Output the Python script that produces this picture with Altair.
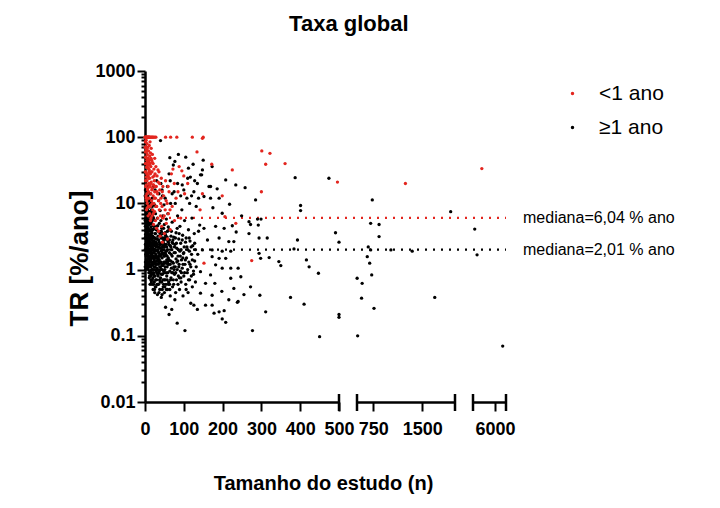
import altair as alt
import pandas as pd

# ---------------- data ----------------
title_text = "Taxa global"
y_title = "TR [%/ano]"
x_title = "Tamanho do estudo (n)"
groups = ["<1 ano", "≥1 ano"]
colors = ["#e3261f", "#000000"]
medians = [6.04, 2.01]
median_labels = ["mediana=6,04 % ano", "mediana=2,01 % ano"]

seg_domains = [[0, 500], [500, 2000], [2000, 8000]]
seg_ticks = [[0, 100, 200, 300, 400, 500], [750, 1500], [6000]]
seg_caps = [[500], [500, 2000], [2000, 8000]]
y_major = [0.01, 0.1, 1, 10, 100, 1000]

# (n, TR) for studies with follow-up >= 1 year
black_points = [
    (1, 1.3), (1, 2.4), (1, 4.5), (1, 8.2), (2, 1.1), (2, 3.1), (2, 6.0), (2, 12), (2, 20),
    (3, 1.6), (3, 2.0), (3, 3.8), (3, 5.2), (3, 9.5), (4, 1.25), (4, 2.7), (4, 4.0), (4, 7.0), (4, 15),
    (5, 1.4), (5, 1.9), (5, 3.3), (5, 5.8), (5, 10.5), (6, 1.05), (6, 2.2), (6, 2.9), (6, 4.6), (6, 6.5),
    (7, 1.7), (7, 3.5), (7, 8.8), (7, 13), (8, 1.2), (8, 2.5), (8, 4.3), (8, 6.2), (8, 18),
    (9, 1.5), (9, 2.1), (9, 3.0), (9, 5.4), (10, 0.9), (10, 1.8), (10, 3.9), (10, 7.6), (10, 11),
    (11, 1.1), (11, 2.3), (11, 4.8), (11, 9.2), (12, 0.8), (12, 1.6), (12, 2.9), (12, 5.5),
    (13, 1.3), (13, 2.0), (13, 3.4), (13, 14), (14, 0.95), (14, 1.9), (14, 2.6), (14, 6.8),
    (15, 0.7), (15, 1.4), (15, 3.1), (15, 4.4), (15, 10), (16, 1.15), (16, 2.2), (16, 5.0),
    (17, 0.85), (17, 1.7), (17, 2.8), (17, 8.0), (18, 0.6), (18, 1.3), (18, 3.6), (18, 4.9),
    (19, 1.0), (19, 1.8), (19, 2.4), (19, 12), (20, 0.75), (20, 1.5), (20, 3.2), (20, 6.3),
    (21, 0.5), (21, 1.2), (21, 2.1), (22, 0.9), (22, 1.6), (22, 4.1), (23, 1.1), (23, 2.7), (23, 7.2),
    (24, 0.65), (24, 1.4), (24, 3.0), (25, 0.45), (25, 1.0), (25, 1.9), (25, 5.6), (26, 0.8), (26, 2.4),
    (26, 16), (27, 1.25), (27, 3.5), (28, 0.55), (28, 1.7), (28, 9.0), (29, 0.95), (29, 2.2),
    (30, 0.7), (30, 1.35), (30, 4.5), (31, 1.05), (31, 2.9), (32, 0.42), (32, 1.55), (32, 6.0),
    (33, 0.85), (33, 2.0), (34, 1.2), (34, 3.8), (35, 0.6), (35, 1.8), (35, 11),
    (36, 0.9), (36, 2.6), (37, 1.4), (37, 5.0), (38, 0.5), (38, 1.1), (39, 2.1), (39, 7.8),
    (40, 0.75), (40, 1.6), (40, 3.3), (40, 89), (41, 1.0), (41, 20), (42, 0.38), (42, 1.3), (42, 2.5),
    (43, 0.65), (43, 4.2), (44, 1.5), (44, 2.0), (45, 0.85), (45, 3.0), (45, 13), (46, 1.15), (46, 6.5),
    (47, 0.55), (47, 1.75), (48, 0.95), (48, 2.8), (49, 1.3), (49, 9.5), (50, 0.45), (50, 2.2), (50, 4.8),
    (51, 1.0), (51, 1.6), (52, 0.7), (52, 3.6), (53, 1.25), (53, 0.27), (54, 0.6), (54, 2.4),
    (55, 1.9), (55, 5.8), (56, 0.8), (56, 1.4), (57, 1.1), (57, 3.1), (58, 0.5), (58, 2.0),
    (59, 0.9), (59, 7.0), (60, 1.5), (60, 2.6),
    (61, 0.65), (61, 1.2), (62, 0.21), (62, 4.0), (62, 28), (63, 1.8), (64, 0.95), (64, 49), (65, 0.4), (65, 2.3),
    (66, 1.35), (66, 10), (67, 0.75), (67, 3.2), (68, 1.05), (69, 0.25), (69, 2.0), (70, 1.6), (70, 5.2),
    (71, 0.55), (72, 0.9), (72, 2.8), (73, 38), (73, 1.25), (74, 0.6), (75, 1.8), (75, 15), (76, 0.85),
    (77, 43), (77, 2.4), (78, 1.1), (79, 0.45), (80, 3.6), (80, 1.45), (81, 0.7), (82, 2.1),
    (83, 0.155), (83, 1.0), (84, 6.5), (85, 1.6), (86, 55), (86, 0.8), (87, 2.9), (88, 1.2),
    (89, 0.5), (90, 4.5), (90, 1.9), (91, 0.95), (92, 2.5), (93, 0.65), (94, 1.4), (95, 8.0),
    (96, 19), (96, 1.05), (97, 3.3), (98, 0.4), (99, 1.75), (100, 0.8), (101, 2.2), (102, 5.5),
    (103, 0.12), (103, 1.2), (105, 0.6), (105, 50), (106, 3.0), (107, 1.5), (108, 12), (109, 0.9),
    (110, 2.0), (111, 0.45), (112, 4.0), (112, 34), (113, 1.3), (115, 0.7), (116, 2.7), (117, 25),
    (118, 0.31), (118, 1.1), (120, 1.7), (121, 6.0), (122, 0.55), (123, 2.3), (124, 39), (125, 0.85),
    (126, 0.29), (126, 15), (127, 3.5), (128, 1.35), (130, 0.65), (130, 2.0),
    (0.5, 2.0), (0.5, 5.5), (0.5, 13), (1.5, 1.0), (1.5, 3.4), (2.5, 2.2), (2.5, 7.5), (3.5, 1.4),
    (3.5, 4.8), (4.5, 2.4), (4.5, 11), (5.5, 1.6), (5.5, 3.7), (6.5, 2.6), (6.5, 8.0), (7.5, 1.3),
    (7.5, 5.0), (8.5, 2.0), (8.5, 3.3), (9.5, 1.15), (9.5, 9.8), (10.5, 2.7), (11.5, 1.45), (11.5, 6.2),
    (12.5, 3.8), (13.5, 0.9), (13.5, 2.5), (14.5, 1.6), (15.5, 2.0), (15.5, 7.0), (16.5, 0.65),
    (16.5, 3.3), (17.5, 1.2), (18.5, 2.2), (18.5, 9.0), (19.5, 1.5), (20.5, 2.6), (21.5, 0.85),
    (21.5, 4.6), (22.5, 1.3), (23.5, 1.8), (24.5, 2.3), (24.5, 0.5), (26.5, 1.5), (27.5, 0.7),
    (28.5, 2.9), (29.5, 1.2), (31.5, 1.9), (32.5, 0.6), (33.5, 3.2), (34.5, 1.5), (36.5, 1.25),
    (37.5, 0.7), (38.5, 2.4), (39.5, 1.0), (41.5, 3.0), (43.5, 1.2), (44.5, 0.5), (46.5, 2.3),
    (48.5, 1.6), (49.5, 0.7), (51.5, 3.0), (53.5, 1.7), (56.5, 2.8), (58.5, 1.3), (61.5, 2.4),
    (63.5, 0.6), (67.5, 1.7), (71.5, 2.5), (74.5, 1.1), (78.5, 3.0), (84.5, 1.35), (92.5, 0.75),
    (97.5, 1.5), (104.5, 2.6), (114.5, 1.9), (119.5, 0.8),
    (0.5, 1.1), (0.5, 3.0), (0.5, 8.5), (1, 16), (1.5, 5.8), (2, 1.7), (2.5, 4.0), (3, 1.2), (3, 7.0),
    (3.5, 2.9), (4, 1.8), (4, 10), (4.5, 1.1), (5, 2.6), (5, 4.4), (5.5, 7.8), (6, 1.4), (6, 3.6),
    (6, 12), (6.5, 1.9), (7, 1.1), (7, 2.4), (7, 5.6), (7.5, 3.0), (8, 1.6), (8, 9.5), (8.5, 1.0),
    (9, 4.0), (9, 7.0), (9.5, 2.5), (10, 1.3), (10, 5.2), (10.5, 1.6), (11, 3.3), (11, 0.75),
    (11.5, 2.0), (12, 1.2), (12, 4.0), (12, 8.8), (12.5, 1.8), (13, 0.6), (13, 5.0), (13.5, 1.4),
    (14, 3.0), (14, 11), (14.5, 0.8), (15, 2.3), (15, 1.8), (15.5, 1.1), (16, 3.8), (16, 1.5),
    (16.5, 7.5), (17, 1.0), (17, 4.0), (17.5, 2.4), (18, 2.0), (18, 0.9), (18.5, 5.5), (19, 3.0),
    (19, 0.7), (19.5, 1.2), (20, 2.0), (20, 4.0), (20.5, 1.0), (21, 1.6), (21, 3.0), (21.5, 6.0),
    (22, 2.5), (22, 0.6), (22.5, 2.0), (23, 1.5), (23, 4.5), (23.5, 0.8), (24, 2.0), (24, 9.5),
    (25, 1.3), (25, 3.0), (26, 1.1), (26, 3.5), (26.5, 0.55), (27, 2.0), (27, 7.0), (28, 1.2),
    (28, 2.6), (29, 1.6), (29, 4.0), (30, 0.9), (30, 2.4), (31, 1.5), (31, 0.6), (32, 2.4), (32, 1.0),
    (33, 1.4), (33, 4.6), (34, 0.8), (34, 2.2), (35, 1.3), (35, 2.8), (36, 1.6), (36, 0.45), (37, 2.2),
    (37, 0.95), (38, 1.7), (38, 3.6), (39, 1.3), (39, 0.65), (40, 2.4), (40, 1.1), (41, 1.9), (41, 5.5),
    (42, 0.85), (42, 3.8), (43, 1.7), (43, 2.5), (44, 1.0), (44, 0.42), (45, 1.8), (45, 2.2), (46, 0.7),
    (46, 3.5), (47, 2.6), (47, 1.2), (48, 0.6), (48, 4.2), (49, 2.0), (49, 0.9), (50, 1.3), (50, 3.0),
    (51, 0.55), (51, 2.4), (52, 1.8), (52, 1.1), (53, 3.3), (54, 1.3), (54, 0.9), (55, 0.5), (55, 2.9),
    (56, 2.2), (57, 0.7), (57, 1.6), (58, 3.8), (59, 1.2), (60, 0.6), (60, 4.4), (62, 1.4), (63, 2.8),
    (64, 0.5), (65, 1.2), (66, 0.7), (67, 2.2), (68, 3.8), (69, 0.9), (70, 2.6), (71, 1.3), (73, 0.7),
    (74, 3.1), (75, 1.0), (76, 2.2), (77, 0.35), (78, 1.8), (79, 0.9), (81, 2.5), (82, 1.3), (83, 4.2),
    (85, 0.6), (86, 2.0), (87, 1.1), (88, 3.5), (89, 0.75), (91, 1.6), (93, 2.0), (94, 0.9), (96, 2.8),
    (98, 1.2), (100, 1.8), (102, 0.9), (104, 1.4), (106, 0.5), (108, 2.2), (110, 1.0), (112, 0.7),
    (114, 3.0), (116, 1.2), (119, 2.2), (122, 1.4), (125, 0.95), (128, 2.5), (132, 1.1), (136, 1.7),
    (138, 3.8),
    (22, 18), (30, 22), (36, 14), (44, 16), (52, 12), (58, 18), (65, 22), (70, 14), (78, 10), (84, 20),
    (92, 13), (100, 16), (110, 24), (115, 10), (120, 13), (128, 22), (132, 9), (138, 12),
    (135, 20), (135, 0.25), (143, 27), (146, 27), (148, 32), (150, 45), (165, 18), (173, 36),
    (208, 22.6), (234, 19), (258, 17.3), (387, 24.5), (474, 24), (169, 18), (186, 16.6),
    (152, 12.7), (169, 12), (191, 12), (218, 9.7), (285, 11.3), (401, 9.3), (401, 7.8), (175, 8.6),
    (199, 7.1), (249, 6.5), (268, 5.3), (290, 5.8), (299, 5.8), (141, 4.7), (152, 4.2), (182, 4.5),
    (204, 4.2), (225, 4.6), (235, 3.7), (272, 4.8), (268, 3.5), (292, 4.7), (294, 3.0), (315, 3.0),
    (393, 2.8), (491, 3.6), (500, 2.6), (161, 2.8), (191, 3.0), (216, 2.65), (229, 2.65),
    (148, 1.98), (173, 1.98), (199, 1.9), (221, 1.9), (294, 1.76), (298, 1.48), (320, 1.52),
    (345, 1.32), (350, 1.15), (384, 2.05), (416, 1.4), (423, 1.1), (447, 0.88), (173, 1.57),
    (191, 1.48), (208, 1.48), (182, 1.18), (199, 1.05), (221, 1.05), (240, 1.05), (143, 0.93),
    (169, 0.83), (221, 0.74), (247, 0.78), (156, 0.62), (180, 0.62), (229, 0.52), (272, 0.55),
    (143, 0.44), (173, 0.41), (198, 0.47), (255, 0.42), (296, 0.41), (216, 0.35), (240, 0.33),
    (238, 0.32), (375, 0.38), (410, 0.30), (156, 0.29), (173, 0.29), (178, 0.22), (191, 0.23),
    (204, 0.24), (199, 0.18), (208, 0.16), (311, 0.23), (277, 0.12), (450, 0.097), (500, 0.21),
    (500, 0.19),
    (510, 0.1), (734, 11.3), (709, 5.0), (838, 4.8), (838, 3.15), (1934, 7.5), (672, 2.2),
    (709, 1.98), (657, 1.57), (694, 1.25), (1019, 1.98), (1345, 1.9), (725, 0.83), (502, 0.74),
    (579, 0.62), (570, 0.37), (760, 0.26), (1690, 0.38),
    (2314, 4.1), (2738, 1.67), (7400, 0.07),
]

# (n, TR) for studies with follow-up < 1 year
red_points = [
    (0, 100), (1, 100), (2, 100), (3, 100), (4, 100), (5, 100), (6, 100), (7, 100), (8, 100),
    (9, 100), (10, 100), (11, 100), (12, 100), (14, 100), (16, 100), (18, 100), (20, 100),
    (22, 100), (25, 100), (28, 100), (53, 100), (66, 100), (82, 100), (122, 100), (150, 100),
    (1, 85), (1, 60), (1, 40), (2, 72), (2, 30), (2, 18), (3, 90), (3, 50), (3, 25), (3, 12),
    (4, 65), (4, 35), (4, 8), (5, 80), (5, 45), (5, 22), (5, 14), (6, 55), (6, 28), (6, 10),
    (7, 70), (7, 38), (7, 17), (8, 48), (8, 26), (8, 6.5), (9, 62), (9, 33), (9, 15),
    (10, 42), (10, 20), (10, 9), (11, 75), (11, 32), (11, 12), (12, 52), (12, 24), (12, 7),
    (13, 85), (13, 40), (13, 18), (14, 58), (14, 28), (14, 5.5), (15, 36), (15, 14),
    (16, 68), (16, 21), (16, 9.5), (17, 45), (17, 11), (18, 30), (18, 6.5), (19, 55), (19, 17),
    (20, 25), (20, 8), (21, 40), (21, 13), (22, 19), (22, 4.8), (23, 33), (23, 10), (24, 22),
    (25, 48), (25, 7.5), (25, 15), (26, 28), (27, 12), (27, 5.5), (28, 36), (29, 18), (30, 9),
    (30, 4.2), (31, 26), (32, 14), (33, 6), (34, 21), (35, 3.8), (35, 11), (36, 30), (37, 8),
    (38, 16), (39, 3.2), (40, 6.5), (41, 12), (42, 24), (43, 4.5), (44, 9), (45, 2.6), (46, 18),
    (47, 6), (48, 13), (50, 3.5), (52, 8), (53, 22), (55, 5), (57, 10), (58, 2.9), (60, 7),
    (62, 15), (65, 4), (68, 28), (70, 9), (72, 33), (76, 5.5), (80, 12), (88, 36), (95, 31),
    (100, 26), (110, 20), (134, 60), (142, 8), (148, 96), (148, 14), (152, 1.25), (172, 39),
    (199, 13), (206, 6.3), (225, 32), (234, 5.0), (275, 1.37), (300, 15), (301, 62), (311, 39),
    (322, 57), (361, 40), (496, 21), (1241, 20), (3605, 33.6),
    (0.5, 70), (0.5, 30), (1.5, 50), (1.5, 22), (2.5, 40), (2.5, 13), (3.5, 60), (3.5, 19),
    (4.5, 28), (4.5, 11), (5.5, 36), (5.5, 8.5), (6.5, 42), (6.5, 16), (7.5, 26), (7.5, 12),
    (8.5, 34), (8.5, 9), (9.5, 24), (9.5, 45), (10.5, 30), (11.5, 18), (12.5, 38), (13.5, 9),
    (14.5, 20), (15.5, 48), (15.5, 6), (16.5, 30), (17.5, 16), (18.5, 42), (19.5, 10), (20.5, 19),
    (21.5, 7), (23.5, 26), (24.5, 12), (26.5, 18), (28.5, 9), (30.5, 15), (33.5, 32), (37.5, 20),
    (40.5, 10), (44.5, 15), (49.5, 6.5), (54.5, 11), (59.5, 18), (64.5, 8), (75.5, 20), (85, 15),
    (92, 6), (102, 14),
]

# ---------------- layout constants ----------------
W = [194, 98, 33]
H = 331
GAP = 18
TOTAL = W[0] + GAP + W[1] + GAP + W[2]
FONT = "Liberation Sans, Arial, sans-serif"

rows = [{"n": n, "tr": t, "grupo": groups[1]} for n, t in black_points]
rows += [{"n": n, "tr": t, "grupo": groups[0]} for n, t in red_points]
df = pd.DataFrame(rows)


def seg_of(n):
    if n <= 500:
        return 0
    if n <= 2000:
        return 1
    return 2


df["seg"] = df["n"].apply(seg_of)
med_df = pd.DataFrame({"v": medians, "grupo": groups, "label": median_labels})

y_vals = [m * k for m in y_major[:-1] for k in range(1, 10)] + [y_major[-1]]
MAJOR = "abs(log(datum.value)/LN10 - round(log(datum.value)/LN10)) < 0.000001"

y_scale = alt.Scale(type="log", domain=[y_major[0], y_major[-1]], nice=False)
color_scale = alt.Scale(domain=groups, range=colors)
legend = alt.Legend(
    orient="none", legendX=417, legendY=12, title=None,
    labelFont=FONT, labelFontSize=21, labelColor="black", labelOffset=16,
    symbolType="circle", symbolSize=12, rowPadding=12, labelLimit=200,
)

y_axis = alt.Axis(
    values=y_vals,
    labelExpr=f"({MAJOR}) ? (datum.value >= 1 ? format(datum.value, 'd') : format(datum.value, '.2~f')) : ''",
    tickSize={"condition": {"test": MAJOR, "value": 8}, "value": 4},
    labelOverlap=False, labelFlush=False,
    title=y_title, titleFont=FONT, titleFontSize=26, titleFontWeight="bold", titleColor="black",
    titlePadding=2, titleY=187,
    labelFont=FONT, labelFontSize=18, labelFontWeight="bold", labelColor="black", labelPadding=2,
    domainColor="black", domainWidth=2.5, tickColor="black", tickWidth=2, grid=False,
)


def x_axis(i):
    kw = dict(
        values=seg_ticks[i], format="d", labelFlush=False, labelOverlap=False,
        labelFont=FONT, labelFontSize=18, labelFontWeight="bold", labelColor="black",
        labelPadding=9, tickSize=9, tickWidth=2, tickColor="black",
        domainColor="black", domainWidth=2.5, grid=False,
    )
    if i == 0:
        kw.update(title=x_title, titleFont=FONT, titleFontSize=20, titleFontWeight="bold",
                  titleColor="black", titleX=178, titleY=71, titleBaseline="top")
    else:
        kw.update(title=None)
    return alt.Axis(**kw)


def panel(i):
    lo, hi = seg_domains[i]
    xs = alt.Scale(domain=[lo, hi], nice=False, zero=False)
    ya = y_axis if i == 0 else None
    d = df[df["seg"] == i]
    pts = alt.Chart(d).mark_circle(size=11, opacity=1).encode(
        x=alt.X("n:Q", scale=xs, axis=x_axis(i)),
        y=alt.Y("tr:Q", scale=y_scale, axis=ya),
        color=alt.Color("grupo:N", scale=color_scale, legend=legend),
    )
    caps = alt.Chart(pd.DataFrame({"n": seg_caps[i]})).mark_rule(
        color="black", strokeWidth=2.5
    ).encode(
        x=alt.X("n:Q", scale=xs, axis=x_axis(i)),
        y=alt.value(H - 8), y2=alt.value(H + 9),
    )
    layers = []
    if i == 0:
        for k in range(2):
            layers.append(
                alt.Chart(med_df.iloc[[k]]).mark_rule(
                    color=colors[k], strokeWidth=2.2, strokeDash=[2, 6]
                ).encode(
                    y=alt.Y("v:Q", scale=y_scale, axis=ya),
                    x=alt.value(0), x2=alt.value(TOTAL),
                )
            )
    layers += [pts, caps]
    if i == 2:
        layers.append(
            alt.Chart(med_df).mark_text(
                align="left", baseline="middle", font=FONT, fontSize=16, color="black"
            ).encode(
                y=alt.Y("v:Q", scale=y_scale, axis=ya),
                x=alt.value(W[2] + 17),
                text="label:N",
            )
        )
    return alt.layer(*layers).properties(width=W[i], height=H)


chart = alt.hconcat(
    panel(0), panel(1), panel(2), spacing=GAP, bounds="flush"
).resolve_scale(y="shared", color="shared").properties(
    title=alt.TitleParams(title_text, font=FONT, fontSize=22, fontWeight="bold",
                          color="black", anchor="middle", offset=26, dx=-22),
    padding={"left": 58, "top": 5, "right": 5, "bottom": 5},
    background="white",
).configure_view(stroke=None)

chart.save("out.html", embed_options={"renderer": "svg", "actions": False})
